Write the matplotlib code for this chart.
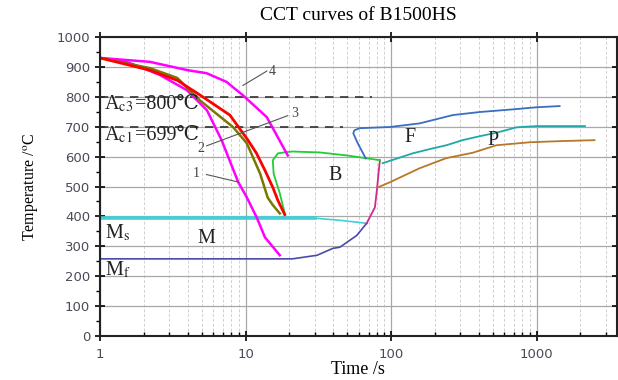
"""CCT curves of B1500HS -- recreation of the reference figure."""
import numpy as np
import matplotlib
matplotlib.use("Agg")
import matplotlib.pyplot as plt
from matplotlib.ticker import LogLocator, MultipleLocator, NullFormatter

plt.rcParams["mathtext.fontset"] = "stix"

SERIF = ["Liberation Serif", "DejaVu Serif", "Noto Sans CJK SC"]

# ---- cooling curves (time s, temperature °C) ----
c1_t = [1, 1.5, 1.88, 2.58, 3.96, 5.43, 6.85, 8.9, 10.2, 12.0, 13.6, 17.2]
c1_T = [930, 918, 900, 873, 822, 755, 655, 515, 464, 394, 330, 270]

c2_t = [1, 2.2, 3.4, 4.86, 8.2, 10.2, 12.6, 14.2, 15.4, 17.2]
c2_T = [930, 896, 863, 788, 699, 645, 543, 463, 438, 410]

c3_t = [1, 2.2, 3.4, 4.9, 7.8, 10.4, 11.9, 13.6, 15.4, 16.7, 18.6]
c3_T = [930, 889, 855, 805, 739, 655, 611, 554, 497, 453, 406]

c4_t = [1, 2.2, 4.0, 5.4, 7.4, 9.6, 14.0, 19.5]
c4_T = [930, 917, 889, 879, 850, 805, 732, 604]

# ---- transformation lines ----
bs_t = [18.6, 17.2, 15.6, 15.4, 16.7, 19.2, 21.0, 32.3, 49.5, 83.8]
bs_T = [410, 477, 543, 588, 611, 615, 617, 614, 604, 588]

fs_t = [67, 59, 55, 56, 61, 98, 157, 266, 405, 687, 1000, 1440]
fs_T = [594, 645, 678, 688, 695, 699, 711, 739, 749, 758, 765, 769]

ps_t = [87.6, 141, 184, 240, 310, 405, 530, 730, 1000, 2150]
ps_T = [578, 611, 625, 638, 655, 668, 680, 698, 702, 702]

pf_t = [81, 98, 157, 240, 365, 530, 900, 1500, 2500]
pf_T = [497, 514, 561, 595, 613, 638, 648, 652, 655]

bf_t = [68, 77.4, 79.9, 81.1, 82.4, 83.8]
bf_T = [377, 430, 487, 520, 554, 588]

ms_thick_t = [1, 30]
ms_thick_T = [395, 395]
ms_thin_t = [30, 44.5, 68]
ms_thin_T = [394, 387, 377]

mf_t = [1, 21, 31, 39.8, 44.5, 58, 68]
mf_T = [258, 258, 270, 293, 297, 336, 377]

AC3 = 800
AC1 = 699

fig = plt.figure(figsize=(6.18, 3.80), dpi=100)
ax = fig.add_axes([0.1618, 0.1158, 0.8362, 0.7868])

ax.set_xscale("log")
ax.set_xlim(1, 3556)
ax.set_ylim(0, 1000)

# grid
ax.xaxis.set_major_locator(LogLocator(base=10))
ax.xaxis.set_minor_locator(LogLocator(base=10, subs=np.arange(2, 10)))
ax.xaxis.set_minor_formatter(NullFormatter())
ax.xaxis.set_major_formatter(plt.FuncFormatter(lambda v, p: f"{v:g}"))
ax.yaxis.set_major_locator(MultipleLocator(100))
ax.yaxis.set_minor_locator(MultipleLocator(50))
ax.grid(True, which="major", color="#a8a8a8", lw=0.9)
ax.grid(True, which="minor", axis="x", color="#d0d0d0", lw=0.7, ls=(0, (3, 2)))

# dashed Ac lines
ax.plot([1, 73.8], [AC3, AC3], color="#333333", lw=1.2, ls=(0, (5, 4)))
ax.plot([1, 46.7], [AC1, AC1], color="#333333", lw=1.2, ls=(0, (5, 4)))

# transformation lines
ax.plot(ms_thick_t, ms_thick_T, color="#40d0d8", lw=2.6)
ax.plot(ms_thin_t, ms_thin_T, color="#40d0d8", lw=1.2)
ax.plot(mf_t, mf_T, color="#4a4aa8", lw=1.2)
ax.plot(bf_t, bf_T, color="#d02890", lw=1.3)
ax.plot(bs_t, bs_T, color="#22cc33", lw=1.3)
ax.plot(fs_t, fs_T, color="#3a6ec0", lw=1.3)
ax.plot(ps_t, ps_T, color="#20a8a8", lw=1.3)
ax.plot(pf_t, pf_T, color="#b87828", lw=1.3)

# cooling curves
ax.plot(c4_t, c4_T, color="#ff00ff", lw=1.8)
ax.plot(c1_t, c1_T, color="#ff00ff", lw=1.8)
ax.plot(c2_t, c2_T, color="#7a7800", lw=1.8)
ax.plot(c3_t, c3_T, color="#ff0000", lw=2.0)

# curve numbers and leader lines
lead = dict(color="#555555", lw=0.8)
num = dict(fontsize=10, family=SERIF, color="#444444", va="center")
ax.plot([9.6, 14.0], [838, 886], **lead)
ax.text(14.5, 885, "4", **num)
ax.plot([5.4, 19.5], [636, 737], **lead)
ax.text(4.9, 628, "2", ha="center", **num)
ax.text(20.5, 745, "3", **num)
ax.plot([5.4, 8.9], [540, 515], **lead)
ax.text(4.6, 545, "1", ha="center", **num)

# region labels
big = dict(fontsize=14.5, family=SERIF, color="#222222")
renderer = fig.canvas.get_renderer()
for y, sub, val in [(758, "c3", "=800℃"), (655, "c1", "=699℃")]:
    t = ax.text(1.07, y, "A$_{\\rm %s}$" % sub, va="baseline", **big)
    bb = t.get_window_extent(renderer)
    # put the "=value" part right after the subscripted A
    x_next = ax.transData.inverted().transform((bb.x1 + 2, 0))[0]
    ax.text(x_next, y, val, va="baseline", **big)
ax.text(1.08, 343, "M$_{\\rm s}$", va="center", **big)
ax.text(1.08, 220, "M$_{\\rm f}$", va="center", **big)
for x, y, s in [(5.4, 326, "M"), (41, 537, "B"), (134, 665, "F"), (500, 654, "P")]:
    ax.text(x, y, s, ha="center", va="center", **big)

# axes styling
for s in ax.spines.values():
    s.set_linewidth(1.5)
    s.set_color("#222222")
ax.tick_params(which="major", direction="inout", length=7, width=1.2,
               labelsize=9.5, labelcolor="#4a4a5a", top=True, right=True)
ax.tick_params(axis="y", which="minor", direction="out", length=3, width=1.0)
ax.tick_params(axis="x", which="minor", direction="in", length=3, width=1.0)
ax.tick_params(axis="x", which="major", pad=5)

ax.set_title("CCT curves of B1500HS", family=SERIF, fontsize=14, pad=12)
ax.set_xlabel("Time /s", family=SERIF, fontsize=13, labelpad=0)
ax.set_ylabel("Temperature /$^{\\rm o}$C", family=SERIF, fontsize=11.5, labelpad=12)

fig.savefig("out.png", dpi=100)
